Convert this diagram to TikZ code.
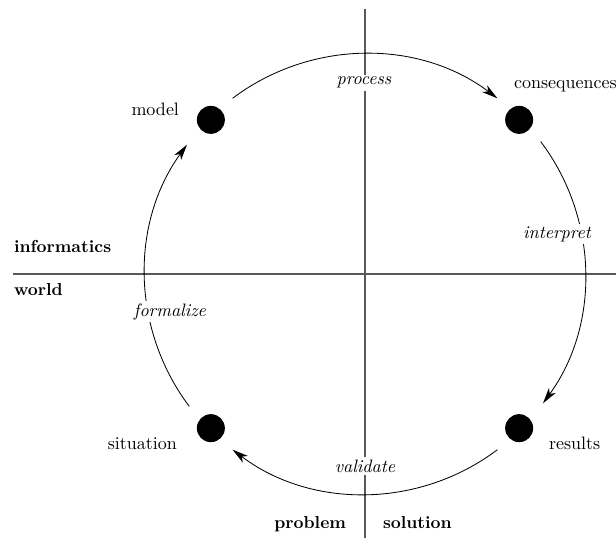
\documentclass[tikz,border=0pt]{standalone}
\usepackage{fontspec}
\usetikzlibrary{arrows.meta}
\begin{document}
\begin{tikzpicture}[x=0.6pt,y=0.6pt,
  every node/.style={font=\fontsize{10.8}{13}\selectfont, inner sep=1pt},
  axis/.style={draw=black!65, line width=0.7pt},
  cyc/.style={draw=black, line width=0.5pt, -{Stealth[length=9.5pt,width=5pt,inset=2.6pt]}},
  dotnode/.style={circle, fill=black, inner sep=0pt, minimum size=16.8pt},
  arclabel/.style={fill=white, font=\fontsize{10.8}{13}\selectfont\itshape, inner sep=1.5pt},
  side/.style={font=\fontsize{10.4}{13}\selectfont\bfseries}
]
\useasboundingbox (0,0) rectangle (616,538);
\coordinate (c) at (365,264);
\coordinate (vtop) at (365,529);
\coordinate (vbot) at (365,0);
\coordinate (hl) at (13,264);
\coordinate (hr) at (616,264);
\draw[axis] (vbot) -- (vtop);
\draw[axis] (hl) -- (hr);

% dots
\path (c) ++(135:218) node[dotnode] (model) {};
\path (c) ++(45:218) node[dotnode] (cons) {};
\path (c) ++(-45:218) node[dotnode] (res) {};
\path (c) ++(-135:218) node[dotnode] (sit) {};

% arcs
\draw[cyc] (c) ++(127:220) arc[start angle=127, end angle=53, radius=220];
\draw[cyc] (c) ++(37:220) arc[start angle=37, end angle=-36, radius=220];
\draw[cyc] (c) ++(-53:220) arc[start angle=-53, end angle=-127, radius=220];
\draw[cyc] (c) ++(-143:220) arc[start angle=-143, end angle=-216, radius=220];

% arc labels
\node[arclabel, anchor=base] (lproc) at (364,453) {process};
\node[arclabel, anchor=base] (linter) at (557,300) {interpret};
\node[arclabel, anchor=base] (lval) at (365,66) {validate};
\node[arclabel, anchor=base] (lform) at (170,222) {formalize};

% dot labels
\node[anchor=base east] (tmodel) at (181,422) {model};
\node[anchor=base west] (tcons) at (512,450) {consequences};
\node[anchor=base east] (tsit) at (179,89) {situation};
\node[anchor=base west] (tres) at (547,89) {results};

% side labels
\node[side, anchor=base west] (tinf) at (12,286) {informatics};
\node[side, anchor=base west] (tworld) at (12,243) {world};
\node[side, anchor=base east] (tprob) at (348,10) {problem};
\node[side, anchor=base west] (tsol) at (381,10) {solution};
\end{tikzpicture}
\end{document}
